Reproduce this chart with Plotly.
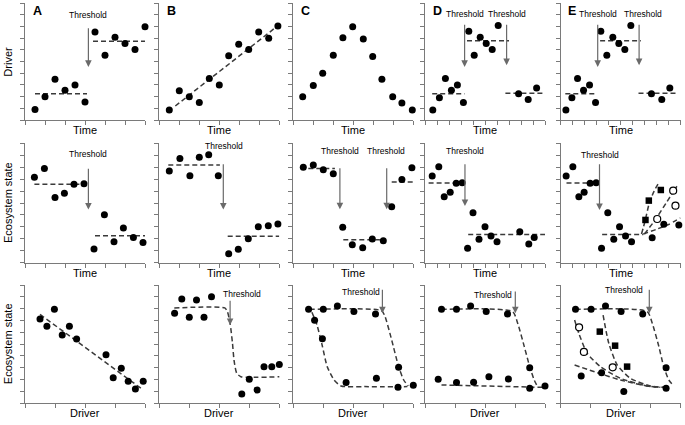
import plotly.graph_objects as go

# ---------------- data (axis units) ----------------
# Row 1 : Driver vs Time
A1_x = [0.5, 1.0, 1.5, 2.0, 2.5, 3.0, 3.5, 4.0, 4.5, 5.0, 5.5, 6.0]
A1_y = [0.9, 2.0, 3.5, 2.55, 3.0, 1.55, 7.55, 5.55, 7.1, 6.55, 6.05, 8.0]
B1_x = [0.5, 1.0, 1.5, 2.0, 2.5, 3.0, 3.47, 3.97, 4.47, 4.97, 5.47, 5.93]
B1_y = [0.85, 2.5, 2.0, 1.5, 3.55, 3.0, 5.5, 6.5, 6.05, 7.55, 7.0, 8.05]
C1_x = [0.47, 1.0, 1.47, 2.0, 2.48, 2.97, 3.5, 3.97, 4.43, 4.97, 5.43, 5.95]
C1_y = [2.0, 2.95, 4.0, 5.55, 7.05, 8.0, 6.95, 5.45, 3.5, 2.0, 1.45, 0.85]
D1_x = [0.65, 1.2, 1.7, 2.2, 2.7, 3.2, 3.65, 4.1, 4.6, 5.1, 5.6, 6.1, 7.8, 8.6, 9.3]
D1_y = [0.85, 1.9, 3.55, 2.55, 3.0, 1.5, 7.6, 5.55, 7.1, 6.55, 6.05, 8.1, 2.25, 1.75, 2.75]
E1_x = [0.45, 0.95, 1.42, 1.92, 2.42, 2.92, 3.36, 3.86, 4.36, 4.86, 5.36, 5.86, 7.58, 8.44, 9.11]
E1_y = [0.85, 1.9, 3.55, 2.55, 3.0, 1.5, 7.6, 5.55, 7.1, 6.55, 6.05, 8.1, 2.25, 1.75, 2.75]

# Row 2 : Ecosystem state vs Time
A2_x = [0.47, 0.97, 1.5, 1.97, 2.45, 2.95, 3.45, 3.97, 4.45, 4.92, 5.42, 5.9]
A2_y = [7.15, 7.88, 5.47, 5.81, 6.56, 6.62, 1.15, 4.02, 1.76, 2.91, 2.12, 1.7]
B2_x = [0.5, 1.03, 1.53, 2.0, 2.47, 2.95, 3.47, 3.95, 4.45, 4.95, 5.45, 5.93]
B2_y = [7.68, 8.72, 7.29, 8.83, 9.05, 7.29, 0.75, 1.12, 2.01, 3.02, 3.1, 3.24]
C2_x = [0.5, 1.0, 1.5, 2.0, 2.47, 2.95, 3.47, 3.95, 4.5, 4.92, 5.43, 5.93]
C2_y = [7.99, 8.18, 7.79, 7.46, 2.96, 1.51, 1.26, 1.98, 1.84, 4.69, 6.96, 7.96]
D2_x = [0.6, 1.15, 1.6, 2.1, 2.6, 3.1, 3.55, 4.0, 4.5, 5.0, 5.5, 6.0, 7.9, 8.65, 9.1, 10.05]
D2_y = [7.26, 8.04, 5.53, 5.89, 6.65, 6.7, 1.2, 4.19, 1.96, 3.02, 2.23, 1.76, 2.6, 1.56, 2.12, 2.12]
E2_x = [0.47, 1.03, 1.53, 1.97, 2.47, 2.97, 3.42, 3.94, 4.44, 4.92, 5.42, 5.92, 7.64, 8.61, 9.86]
E2_y = [7.26, 8.04, 5.53, 5.89, 6.65, 6.7, 1.2, 4.19, 1.96, 3.02, 2.23, 1.76, 2.09, 3.21, 3.16]
E2_sq_x = [7.08, 7.36, 8.36]
E2_sq_y = [3.58, 5.2, 6.09]
E2_open_x = [8.06, 9.39, 9.58]
E2_open_y = [3.66, 6.03, 4.78]

# Row 3 : Ecosystem state vs Driver
A3_x = [0.5, 0.73, 0.98, 1.24, 1.48, 1.72, 2.7, 2.94, 3.21, 3.44, 3.68, 3.94]
A3_y = [7.13, 6.51, 7.94, 5.77, 6.51, 5.44, 4.11, 2.17, 2.96, 1.86, 1.21, 1.86]
B3_x = [0.51, 0.75, 1.0, 1.24, 1.49, 1.74, 2.75, 3.0, 3.26, 3.49, 3.75, 4.0]
B3_y = [7.61, 8.82, 7.27, 8.73, 7.27, 9.01, 0.79, 2.03, 1.13, 3.1, 3.1, 3.27]
C3_x = [0.51, 0.71, 1.0, 0.97, 1.47, 1.76, 2.02, 2.74, 2.77, 3.51, 3.49, 4.0]
C3_y = [7.94, 7.01, 7.94, 5.46, 8.23, 1.75, 7.77, 7.55, 2.11, 3.04, 1.35, 1.52]
D3_x = [0.55, 1.05, 1.52, 2.04, 2.75, 3.49, 0.44, 1.05, 1.62, 2.13, 2.78, 3.49, 4.0]
D3_y = [7.94, 7.94, 8.23, 7.77, 7.55, 3.01, 2.03, 1.75, 1.77, 2.25, 2.06, 1.27, 1.46]
E3_x = [0.5, 1.02, 1.5, 2.02, 2.74, 3.52, 0.69, 1.37, 2.11, 3.52, 4.03]
E3_y = [7.94, 7.94, 8.23, 7.77, 7.55, 3.01, 2.31, 2.59, 0.99, 1.27, 1.46]
E3_sq_x = [1.31, 1.82, 2.22]
E3_sq_y = [6.06, 4.87, 3.1]
E3_open_x = [0.62, 0.78, 1.74]
E3_open_y = [6.42, 4.34, 3.04]

# dashed fit lines: (x list, y list)
A1_fits = [([0.5, 3.1], [2.25, 2.25]), ([3.4, 6.05], [6.75, 6.75])]
B1_fits = [([0.8, 5.87], [1.2, 8.0])]
C1_fits = []
D1_fits = [([0.6, 3.3], [2.25, 2.25]), ([3.5, 7.0], [6.8, 6.8]), ([6.7, 9.95], [2.3, 2.3])]
E1_fits = [([0.4, 3.05], [2.25, 2.25]), ([3.3, 6.7], [6.8, 6.8]), ([6.5, 9.8], [2.3, 2.3])]
A2_fits = [([0.47, 2.75], [6.56, 6.56]), ([3.5, 6.03], [2.26, 2.26])]
B2_fits = [([0.45, 3.03], [8.18, 8.18]), ([3.42, 6.0], [2.21, 2.21])]
C2_fits = [([0.75, 2.08], [7.88, 7.88]), ([2.5, 4.33], [1.93, 1.93]), ([4.92, 5.97], [6.76, 6.76])]
D2_fits = [([0.3, 3.05], [6.68, 6.68]), ([3.6, 10.05], [2.37, 2.37])]
E2_fits = [([0.5, 3.19], [6.68, 6.68]), ([3.47, 6.9], [2.37, 2.37]),
           ([6.75, 7.05, 7.4, 7.8, 8.2], [2.4, 3.5, 5.0, 6.0, 6.7]),
           ([7.0, 7.9, 8.8, 9.7], [2.4, 3.6, 5.0, 6.4]),
           ([6.9, 8.0, 9.0, 10.0], [2.4, 2.8, 3.2, 3.75])]
A3_fits = [([0.5, 3.94], [7.52, 1.13])]
B3_fits = [([0.5, 2.18, 2.27, 2.36, 2.44, 2.49, 2.58, 2.72, 4.04],
            [8.06, 8.06, 7.75, 6.76, 5.07, 3.66, 2.54, 2.25, 2.25])]
C3_fits = [([0.54, 2.94, 3.06, 3.28, 3.51, 3.68, 3.83], [7.94, 7.83, 7.32, 5.35, 3.1, 1.97, 1.46]),
           ([0.62, 0.79, 0.96, 1.13, 1.36, 1.59, 2.38, 3.8], [7.69, 6.62, 4.93, 3.1, 1.97, 1.46, 1.41, 1.41])]
D3_fits = [([0.55, 2.92, 3.09, 3.31, 3.49, 3.64, 3.75], [7.94, 7.75, 6.76, 4.79, 3.1, 1.97, 1.41]),
           ([0.55, 3.91], [1.55, 1.35])]
E3_fits = [([0.5, 2.89, 3.06, 3.28, 3.44, 3.61, 3.78], [7.94, 7.75, 6.76, 4.79, 3.1, 1.97, 1.46]),
           ([1.42, 1.61, 1.89, 2.33, 3.0, 3.44], [7.46, 5.07, 3.24, 2.11, 1.46, 1.35]),
           ([0.47, 0.61, 0.89, 1.33, 2.0, 2.89, 3.44], [7.04, 5.92, 4.23, 3.1, 2.11, 1.46, 1.35]),
           ([0.47, 1.22, 2.0, 2.89, 3.33], [3.24, 2.59, 1.97, 1.46, 1.35])]

# threshold arrows: (x, y_tail, y_tip) and label positions (x, y)
A1_thr = [(3.17, 8.0, 4.55)];  A1_lab = [(3.17, 9.0)]
B1_thr = [];                   B1_lab = []
C1_thr = [];                   C1_lab = []
D1_thr = [(3.3, 8.3, 4.55), (6.8, 8.3, 4.7)];   D1_lab = [(3.3, 9.1), (6.85, 9.1)]
E1_thr = [(3.1, 8.3, 4.55), (6.55, 8.3, 4.7)];  E1_lab = [(3.15, 9.1), (6.85, 9.1)]
A2_thr = [(3.17, 8.0, 4.45)];  A2_lab = [(3.17, 9.08)]
B2_thr = [(3.2, 8.38, 4.45)];  B2_lab = [(3.24, 9.77)]
C2_thr = [(2.33, 8.04, 4.47), (4.67, 8.04, 4.47)]; C2_lab = [(2.33, 9.39), (4.63, 9.39)]
D2_thr = [(3.33, 8.38, 4.75)]; D2_lab = [(3.3, 9.39)]
E2_thr = [(3.25, 8.38, 4.41)]; E2_lab = [(3.28, 9.02)]
A3_thr = [];                   A3_lab = []
B3_thr = [(2.36, 8.79, 6.62)]; B3_lab = [(2.74, 9.21)]
C3_thr = [(2.97, 9.72, 7.61)]; C3_lab = [(2.27, 9.38)]
D3_thr = [(3.01, 9.58, 7.61)]; D3_lab = [(2.26, 9.15)]
E3_thr = [(2.96, 9.72, 7.61)]; E3_lab = [(2.11, 9.58)]

panel_letters = ["A", "B", "C", "D", "E"]
row_xtitles = ["Time", "Time", "Driver"]
row_ytitles = ["Driver", "Ecosystem state", "Ecosystem state"]

# ---------------- layout geometry (pixels) ----------------
W, H = 685, 425
col_px = [(25, 145), (159.3, 279.3), (293.3, 413.3), (425, 545), (560.5, 680.5)]
row_px = [(3.3, 120), (143.3, 262.7), (285, 403.3)]
xranges = [[6, 6, 6, 10, 10], [6, 6, 6, 10, 10], [4, 4, 4, 4, 4]]

panels = [
    [(A1_x, A1_y, A1_fits, A1_thr, A1_lab, None, None),
     (B1_x, B1_y, B1_fits, B1_thr, B1_lab, None, None),
     (C1_x, C1_y, C1_fits, C1_thr, C1_lab, None, None),
     (D1_x, D1_y, D1_fits, D1_thr, D1_lab, None, None),
     (E1_x, E1_y, E1_fits, E1_thr, E1_lab, None, None)],
    [(A2_x, A2_y, A2_fits, A2_thr, A2_lab, None, None),
     (B2_x, B2_y, B2_fits, B2_thr, B2_lab, None, None),
     (C2_x, C2_y, C2_fits, C2_thr, C2_lab, None, None),
     (D2_x, D2_y, D2_fits, D2_thr, D2_lab, None, None),
     (E2_x, E2_y, E2_fits, E2_thr, E2_lab, (E2_sq_x, E2_sq_y), (E2_open_x, E2_open_y))],
    [(A3_x, A3_y, A3_fits, A3_thr, A3_lab, None, None),
     (B3_x, B3_y, B3_fits, B3_thr, B3_lab, None, None),
     (C3_x, C3_y, C3_fits, C3_thr, C3_lab, None, None),
     (D3_x, D3_y, D3_fits, D3_thr, D3_lab, None, None),
     (E3_x, E3_y, E3_fits, E3_thr, E3_lab, (E3_sq_x, E3_sq_y), (E3_open_x, E3_open_y))],
]

FONT = "Liberation Sans, Arial, sans-serif"
AXC = "#7a7a7a"
DASHC = "#3a3a3a"
ARC = "#6a6a6a"

fig = go.Figure()
layout = dict(width=W, height=H, margin=dict(l=0, r=0, t=0, b=0),
              paper_bgcolor="white", plot_bgcolor="white", showlegend=False,
              hovermode=False,
              font=dict(family=FONT, color="black"))
annotations = []

for r in range(3):
    for c in range(5):
        k = r * 5 + c + 1
        xs = "x" if k == 1 else f"x{k}"
        ys = "y" if k == 1 else f"y{k}"
        xname = "xaxis" if k == 1 else f"xaxis{k}"
        yname = "yaxis" if k == 1 else f"yaxis{k}"
        x0, x1 = col_px[c]
        y0, y1 = row_px[r]
        common = dict(showline=True, linecolor=AXC, linewidth=1, ticks="outside",
                      ticklen=4, tickwidth=1, tickcolor=AXC, showticklabels=False,
                      showgrid=False, zeroline=False, fixedrange=True)
        layout[xname] = dict(domain=[x0 / W, x1 / W], range=[0, xranges[r][c]],
                             anchor=ys, tick0=0, dtick=1, **common)
        layout[yname] = dict(domain=[1 - y1 / H, 1 - y0 / H], range=[0, 10],
                             anchor=xs, tick0=0, dtick=1, **common)

        px_, py_, fits, thr, lab, sq, op = panels[r][c]
        for fx, fy in fits:
            fig.add_trace(go.Scatter(x=fx, y=fy, xaxis=xs, yaxis=ys, mode="lines",
                                     line=dict(color=DASHC, width=1.5, dash="5px,3px",
                                               shape="spline", smoothing=0.6),
                                     cliponaxis=False, hoverinfo="skip"))
        fig.add_trace(go.Scatter(x=px_, y=py_, xaxis=xs, yaxis=ys, mode="markers",
                                 marker=dict(color="black", size=7, symbol="circle"),
                                 cliponaxis=False))
        if sq:
            fig.add_trace(go.Scatter(x=sq[0], y=sq[1], xaxis=xs, yaxis=ys, mode="markers",
                                     marker=dict(color="black", size=6.5, symbol="square"),
                                     cliponaxis=False))
        if op:
            fig.add_trace(go.Scatter(x=op[0], y=op[1], xaxis=xs, yaxis=ys, mode="markers",
                                     marker=dict(color="white", size=7, symbol="circle",
                                                 line=dict(color="black", width=1.2)),
                                     cliponaxis=False))
        for (ax_, ayt, ayh) in thr:
            annotations.append(dict(x=ax_, y=ayh, ax=ax_, ay=ayt, xref=xs, yref=ys,
                                    axref=xs, ayref=ys, text="", showarrow=True,
                                    arrowhead=2, arrowsize=1.1, arrowwidth=1.2,
                                    arrowcolor=ARC, standoff=0, startstandoff=0))
        for (lx, ly) in lab:
            annotations.append(dict(x=lx, y=ly, xref=xs, yref=ys, text="Threshold",
                                    showarrow=False, font=dict(size=8.5, family=FONT),
                                    xanchor="center", yanchor="middle"))
        # x title
        annotations.append(dict(x=(x0 + x1) / 2 / W, y=1 - (y1 + 10) / H,
                                xref="paper", yref="paper", text=row_xtitles[r],
                                showarrow=False, font=dict(size=11, family=FONT),
                                xanchor="center", yanchor="middle"))
        # panel letter on top row
        if r == 0:
            annotations.append(dict(x=(x0 + 5.5) / W, y=1 - 2 / H, xref="paper", yref="paper",
                                    text=f"<b>{panel_letters[c]}</b>", showarrow=False,
                                    font=dict(size=12.5, family=FONT),
                                    xanchor="left", yanchor="top"))
    # y title
    yc = (row_px[r][0] + row_px[r][1]) / 2
    annotations.append(dict(x=8 / W, y=1 - yc / H, xref="paper", yref="paper",
                            text=row_ytitles[r], textangle=-90, showarrow=False,
                            font=dict(size=11, family=FONT),
                            xanchor="center", yanchor="middle"))

layout["annotations"] = annotations
fig.update_layout(**layout)
fig.write_html("out.html", config={"displayModeBar": False, "staticPlot": True},
               post_script="document.body.style.margin='0px';document.body.style.padding='0px';")
